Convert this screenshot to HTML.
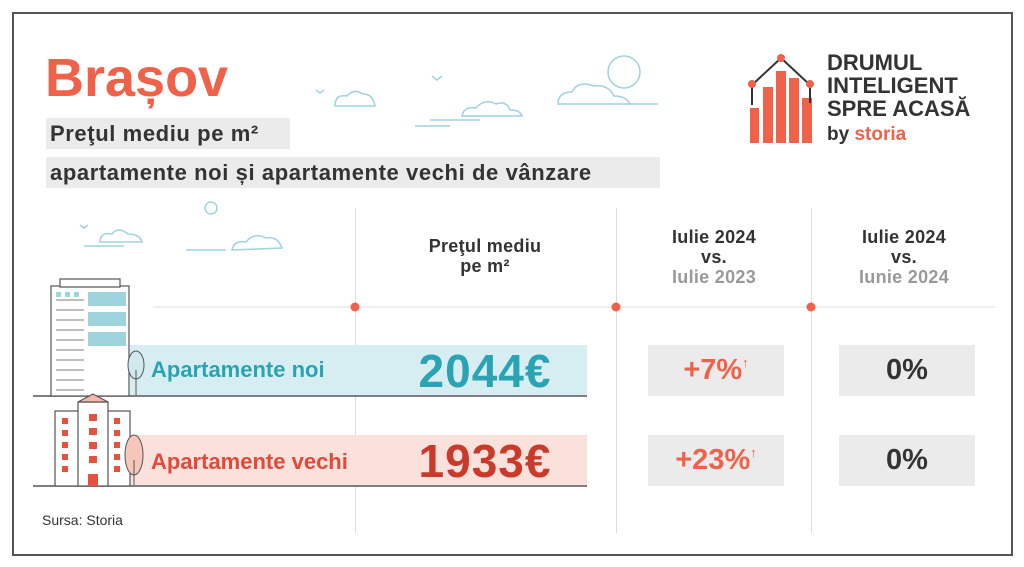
<!DOCTYPE html>
<html><head><meta charset="utf-8"><style>
*{margin:0;padding:0;box-sizing:border-box}
body{width:1024px;height:567px;background:#fff;position:relative;overflow:hidden;font-family:"Liberation Sans",sans-serif}
.a{position:absolute}
.frame{left:12px;top:12px;width:1001px;height:544px;border:2px solid #555}
.bar{background:#ebebeb;color:#333;font-weight:bold;font-size:22px;letter-spacing:0.6px;padding-left:4px;line-height:31px;white-space:nowrap}
.vl{width:1px;background:#ddd;top:208px;height:325px}
.hd{font-weight:bold;font-size:18px;letter-spacing:0.3px;color:#333;text-align:center;line-height:20px;width:200px}
.g{color:#999}
.box{background:#ebebeb;width:136px;height:51px;text-align:center;line-height:51px;font-weight:bold;font-size:29px}
.ar{font-size:13px;position:relative;top:-12px;line-height:0}
</style></head><body>
<div class="a frame"></div>
<div class="a" style="left:45px;top:47px;font-size:54px;font-weight:bold;color:#f0614a">Brașov</div>
<div class="a bar" style="left:46px;top:118px;width:244px;height:31px">Preţul mediu pe m²</div>
<div class="a bar" style="left:46px;top:157px;width:614px;height:31px">apartamente noi și apartamente vechi de vânzare</div>

<div class="a vl" style="left:355px"></div><div class="a vl" style="left:616px"></div><div class="a vl" style="left:811px"></div>

<svg class="a" style="left:0;top:0" width="1024" height="567">
<g fill="none" stroke="#9fd3de" stroke-width="1.5">
<path d="M335 106 q0-12 12-10 q6-8 16-2 q10 0 12 12z"/><path d="M462 116 q2-10 14-8 q8-10 20-4 q10-4 14 6 q10 0 12 6z"/><path d="M558 104 q0-12 14-12 q6-12 22-6 q14-2 20 10 q12 0 16 8z"/><circle cx="624" cy="72" r="16"/><path d="M430 120h50M415 126h35M432 76l5 4 5-4M316 90l4 3 4-3"/>
<path d="M100 242 q0-10 12-8 q6-8 16 0 q12 0 14 8z"/><path d="M232 250 q2-10 14-8 q8-10 20-4 q12-2 16 10z"/><circle cx="211" cy="208" r="6"/><path d="M84 246h40M186 250h40M80 225l4 3 4-3"/>
<path d="M628 104h30"/>
</g>
<g><rect x="750" y="108" width="9" height="35" fill="#f0614a"/><rect x="763" y="87" width="10" height="56" fill="#f0614a"/><rect x="776" y="71" width="10" height="72" fill="#f0614a"/><rect x="789" y="78" width="10" height="65" fill="#f0614a"/><rect x="802" y="98" width="10" height="45" fill="#f0614a"/>
<path d="M752 85 L781 58 L810 85" stroke="#333" stroke-width="2" fill="none"/><path d="M752 85v20M810 85v18" stroke="#333" stroke-width="2"/>
<circle cx="752" cy="84" r="4" fill="#f0614a"/><circle cx="781" cy="58" r="4" fill="#f0614a"/><circle cx="810" cy="84" r="4" fill="#f0614a"/></g>
<line x1="153" y1="307" x2="995" y2="307" stroke="#ddd"/>
<circle cx="355" cy="307" r="4.5" fill="#f0614a"/><circle cx="616" cy="307" r="4.5" fill="#f0614a"/><circle cx="811" cy="307" r="4.5" fill="#f0614a"/>
<rect x="130" y="345" width="457" height="50" fill="#d6eef2"/>
<rect x="130" y="435" width="457" height="50" fill="#fbe1dc"/>
<line x1="33" y1="396" x2="587" y2="396" stroke="#555" stroke-width="1.5"/>
<line x1="33" y1="486" x2="587" y2="486" stroke="#555" stroke-width="1.5"/>
<g stroke="#555" stroke-width="1.2" fill="#fff">
<rect x="51" y="286" width="78" height="110"/><rect x="60" y="279" width="60" height="8"/>
<rect x="55" y="411" width="75" height="75"/><rect x="78" y="402" width="30" height="84"/><path d="M78 402 l15-8 15 8z" fill="#f7b8ac"/>
</g>
<g fill="#9fd3de"><rect x="88" y="292" width="38" height="14"/><rect x="88" y="312" width="38" height="14"/><rect x="88" y="332" width="38" height="14"/>
<rect x="56" y="292" width="5" height="5"/><rect x="65" y="292" width="5" height="5"/><rect x="74" y="292" width="5" height="5"/></g>
<g fill="none" stroke="#555" stroke-width="0.8"><path d="M56 300h28M56 310h28M56 320h28M56 330h28M56 340h28M56 350h28M56 360h28M56 370h28M56 380h28M56 390h28"/></g>
<g fill="#e5533f"><rect x="62" y="418" width="6" height="6"/><rect x="62" y="430" width="6" height="6"/><rect x="62" y="442" width="6" height="6"/><rect x="62" y="454" width="6" height="6"/><rect x="62" y="466" width="6" height="6"/>
<rect x="114" y="418" width="6" height="6"/><rect x="114" y="430" width="6" height="6"/><rect x="114" y="442" width="6" height="6"/><rect x="114" y="454" width="6" height="6"/><rect x="114" y="466" width="6" height="6"/>
<rect x="89" y="414" width="8" height="7"/><rect x="89" y="428" width="8" height="7"/><rect x="89" y="442" width="8" height="7"/><rect x="89" y="456" width="8" height="7"/><rect x="88" y="474" width="10" height="12"/></g>
<ellipse cx="136" cy="365" rx="8" ry="14" fill="#cfe9ee" stroke="#555"/><line x1="136" y1="370" x2="136" y2="395" stroke="#555"/>
<ellipse cx="134" cy="455" rx="9" ry="20" fill="#f7c6bb" stroke="#555"/><line x1="134" y1="460" x2="134" y2="485" stroke="#555"/>
</svg>
<div class="a" style="left:827px;top:51px;font-weight:bold;font-size:22px;line-height:23px;color:#333">DRUMUL<br>INTELIGENT<br>SPRE ACASĂ</div>
<div class="a" style="left:827px;top:124px;font-weight:bold;font-size:19px;color:#333">by <span style="color:#f0614a">storia</span></div>

<div class="a hd" style="left:385px;top:236px">Preţul mediu<br>pe m²</div>
<div class="a hd" style="left:614px;top:227px">Iulie 2024<br>vs.<br><span class="g">Iulie 2023</span></div>
<div class="a hd" style="left:804px;top:227px">Iulie 2024<br>vs.<br><span class="g">Iunie 2024</span></div>

<div class="a" style="left:151px;top:357px;font-weight:bold;font-size:22px;color:#2aa3b3">Apartamente noi</div>
<div class="a" style="left:151px;top:449px;font-weight:bold;font-size:22px;color:#e04a3a">Apartamente vechi</div>
<div class="a" style="left:385px;top:344px;width:200px;text-align:center;font-weight:bold;font-size:46px;letter-spacing:1px;color:#2aa3b3">2044€</div>
<div class="a" style="left:385px;top:434px;width:200px;text-align:center;font-weight:bold;font-size:46px;letter-spacing:1px;color:#c93a2b">1933€</div>

<div class="a box" style="left:648px;top:345px;color:#f0614a">+7%<span class="ar">↑</span></div>
<div class="a box" style="left:839px;top:345px;color:#333">0%</div>
<div class="a box" style="left:648px;top:435px;color:#f0614a">+23%<span class="ar">↑</span></div>
<div class="a box" style="left:839px;top:435px;color:#333">0%</div>

<div class="a" style="left:42px;top:512px;font-size:14px;color:#333">Sursa: Storia</div>
</body></html>
